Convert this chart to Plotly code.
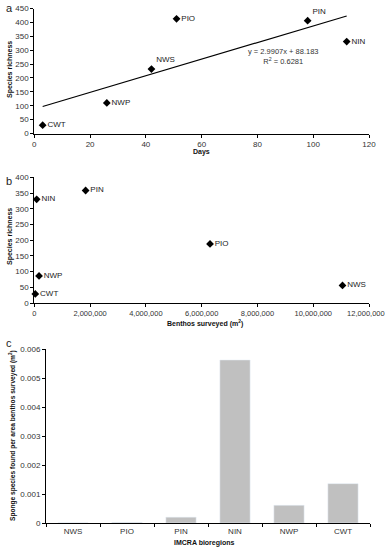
import plotly.graph_objects as go

# Panel a: species richness vs days
a_labels = ["CWT", "NWP", "NWS", "PIO", "PIN", "NIN"]
a_days = [3, 26, 42, 51, 98, 112]
a_rich = [30, 110, 232, 413, 406, 331]
a_textpos = ["middle right", "middle right", "top right", "middle right", "top right", "middle right"]
trend_slope = 2.9907
trend_intercept = 88.183
trend_r2 = 0.6281

# Panel b: species richness vs benthos surveyed
b_labels = ["NIN", "PIN", "PIO", "NWS", "NWP", "CWT"]
b_area = [85000, 1840000, 6300000, 11050000, 170000, 36000]
b_rich = [330, 358, 188, 56, 86, 29]
b_xticks = [0, 2000000, 4000000, 6000000, 8000000, 10000000, 12000000]

# Panel c: sponge species per area
c_regions = ["NWS", "PIO", "PIN", "NIN", "NWP", "CWT"]
c_values = [0.000005, 0.00002, 0.0002, 0.00563, 0.00061, 0.00136]
c_ticks = [0, 0.001, 0.002, 0.003, 0.004, 0.005, 0.006]
c_ticktext = ["0", "0.001", "0.002", "0.003", "0.004", "0.005", "0.006"]

W, H = 385, 550
def fx(px): return px / W
def fy(py): return 1 - py / H

FONT = "Liberation Sans, Arial, sans-serif"
tick_font = dict(family=FONT, size=8, color="#333")
lab_font = dict(family=FONT, size=8, color="#222")

# tick texts for panel b; the last one is padded so it stays inside the page like the original
b_xticktext = [f"{v:,}" for v in b_xticks]
b_xticktext[-1] = b_xticktext[-1] + "\u00a0\u00a0\u00a0"

fig = go.Figure()

fig.add_trace(go.Scatter(x=a_days, y=a_rich, mode="markers+text", text=a_labels,
                         textposition=a_textpos, textfont=lab_font,
                         marker=dict(symbol="diamond", size=6, color="black"),
                         xaxis="x", yaxis="y", showlegend=False, cliponaxis=False))
tx = [min(a_days), max(a_days)]
ty = [trend_slope * v + trend_intercept for v in tx]
fig.add_trace(go.Scatter(x=tx, y=ty, mode="lines", line=dict(color="black", width=1.2),
                         xaxis="x", yaxis="y", showlegend=False))

fig.add_trace(go.Scatter(x=b_area, y=b_rich, mode="markers+text", text=b_labels,
                         textposition="middle right", textfont=lab_font,
                         marker=dict(symbol="diamond", size=6, color="black"),
                         xaxis="x2", yaxis="y2", showlegend=False, cliponaxis=False))

fig.add_trace(go.Bar(x=c_regions, y=c_values, marker=dict(color="#c0c0c0"),
                     xaxis="x3", yaxis="y3", showlegend=False))

axis_common = dict(showline=True, linecolor="black", linewidth=1, ticks="outside",
                   ticklen=3, tickcolor="black", showgrid=False, zeroline=False,
                   automargin=False, ticklabeloverflow="allow")

fig.update_layout(
    width=W, height=H, margin=dict(l=0, r=0, t=0, b=0),
    paper_bgcolor="white", plot_bgcolor="white", bargap=0.44,
    xaxis=dict(domain=[fx(34.3), fx(369)], range=[0, 120], tickvals=[0, 20, 40, 60, 80, 100, 120],
               anchor="y", tickfont=tick_font, **axis_common),
    yaxis=dict(domain=[fy(133.5), fy(8.5)], range=[0, 450], tickvals=list(range(0, 451, 50)),
               anchor="x", tickfont=tick_font, **axis_common),
    xaxis2=dict(domain=[fx(34.3), fx(369)], range=[0, 12000000],
                tickvals=b_xticks, ticktext=b_xticktext, anchor="y2",
                tickfont=dict(family=FONT, size=7.5, color="#333"), **axis_common),
    yaxis2=dict(domain=[fy(303), fy(177.3)], range=[0, 400], tickvals=list(range(0, 401, 50)),
                anchor="x2", tickfont=tick_font, **axis_common),
    xaxis3=dict(domain=[fx(46), fx(370)], range=[-0.5, 5.5], anchor="y3", tickson="boundaries",
                tickfont=tick_font, **axis_common),
    yaxis3=dict(domain=[fy(523), fy(349.3)], range=[0, 0.006], tickvals=c_ticks, ticktext=c_ticktext,
                anchor="x3", tickfont=tick_font, **axis_common),
)

fig.add_annotation(x=89, y=277, xref="x", yref="y",
                   text=f"y = {trend_slope}x + {trend_intercept}<br>R<sup>2</sup> = {trend_r2}",
                   showarrow=False, font=dict(family=FONT, size=7.5, color="#333"))

# axis titles
titles = [
    ("<b>Days</b>", 202, 152, 0, 7),
    ("<b>Species richness</b>", 10, 70, -90, 7),
    ("<b>Benthos surveyed (m<sup>2</sup>)</b>", 205, 323, 0, 7),
    ("<b>Species richness</b>", 10, 237, -90, 7),
    ("<b>IMCRA bioregions</b>", 205, 543, 0, 7),
    ("<b>Sponge species found per area benthos surveyed (m<sup>2</sup>)</b>", 12, 436, -90, 6.6),
]
for txt, px, py, ang, sz in titles:
    fig.add_annotation(x=fx(px), y=fy(py), xref="paper", yref="paper", text=txt, showarrow=False,
                       textangle=ang, xanchor="center", yanchor="middle",
                       font=dict(family=FONT, size=sz, color="#111"))

for letter, px, py in [("a", 9, 8), ("b", 9, 181), ("c", 9, 343)]:
    fig.add_annotation(x=fx(px), y=fy(py), xref="paper", yref="paper", text=letter, showarrow=False,
                       xanchor="center", yanchor="middle",
                       font=dict(family=FONT, size=11, color="#222"))

fig.write_html("out.html", config={"displayModeBar": False},
               post_script="document.body.style.margin='0';document.body.style.overflow='hidden';")
